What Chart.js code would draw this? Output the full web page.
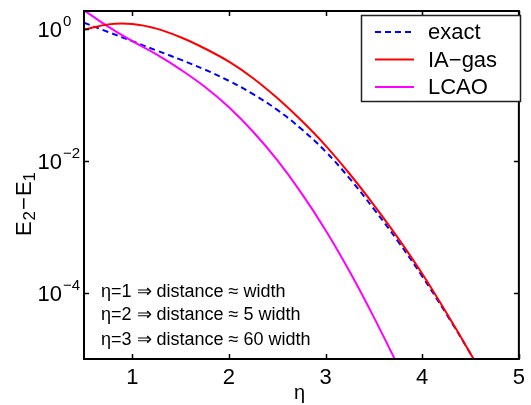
<!DOCTYPE html>
<html>
<head>
<meta charset="utf-8">
<script src="https://cdn.jsdelivr.net/npm/chart.js@4/dist/chart.umd.min.js"></script>
<style>
  html, body { margin: 0; padding: 0; background: #fff; }
  canvas { display: block; }
</style>
</head>
<body>
<canvas id="plot" width="531" height="405"></canvas>
<script>
// eta grid and the three curves
const eta = [0.5, 0.75, 1, 1.25, 1.5, 1.75, 2, 2.25, 2.5, 2.75, 3, 3.25, 3.5, 3.75, 4, 4.25, 4.5, 4.75];
const exact = [1.23, 0.891, 0.646, 0.468, 0.339, 0.240, 0.162, 0.102, 0.0589, 0.0302, 0.0138, 0.00537, 0.00186, 6.03e-4, 1.78e-4, 4.79e-5, 1.20e-5, 2.82e-6];
const iaGas = [0.966, 1.161, 1.175, 1.0, 0.741, 0.501, 0.316, 0.178, 0.0891, 0.0407, 0.0170, 0.00631, 0.00214, 6.76e-4, 1.95e-4, 5.0e-5, 1.20e-5, 2.7e-6];
const lcao = [1.9, 1.072, 0.646, 0.407, 0.240, 0.132, 0.0646, 0.0275, 0.0102, 0.00324, 8.9e-4, 2.09e-4, 4.27e-5, 7.8e-6, 1.26e-6, null, null, null];

const seriesNames = ['exact', 'IA\u2212gas', 'LCAO'];
const xTicks = [1, 2, 3, 4, 5];
const yTicks = [1e-4, 1e-2, 1];
const yTickExp = ['\u22124', '\u22122', '0'];
const notes = [
    '\u03b7=1 \u21d2 distance \u2248 width',
    '\u03b7=2 \u21d2 distance \u2248 5 width',
    '\u03b7=3 \u21d2 distance \u2248 60 width'
];

const FONT = "'Liberation Sans', Arial, sans-serif";

function points(ys) {
    return eta.map((x, i) => ({ x: x, y: ys[i] }));
}

// MATLAB style box, inward ticks, legend and labels
const matlabAxes = {
    id: 'matlabAxes',
    afterDatasetsDraw(chart) {
        const ctx = chart.ctx;
        const a = chart.chartArea;
        const xs = chart.scales.x;
        const ys = chart.scales.y;
        ctx.save();

        // box
        ctx.strokeStyle = '#000';
        ctx.lineWidth = 2;
        ctx.strokeRect(a.left, a.top, a.right - a.left, a.bottom - a.top);

        // inward ticks
        ctx.lineWidth = 1.5;
        ctx.beginPath();
        xTicks.forEach(v => {
            const px = Math.round(xs.getPixelForValue(v)) + 0.5;
            ctx.moveTo(px, a.bottom); ctx.lineTo(px, a.bottom - 5);
            ctx.moveTo(px, a.top); ctx.lineTo(px, a.top + 5);
        });
        yTicks.forEach(v => {
            const py = Math.round(ys.getPixelForValue(v)) + 0.5;
            ctx.moveTo(a.left, py); ctx.lineTo(a.left + 5, py);
            ctx.moveTo(a.right, py); ctx.lineTo(a.right - 5, py);
        });
        ctx.stroke();

        // y tick labels 10^n
        ctx.fillStyle = '#000';
        ctx.textBaseline = 'alphabetic';
        yTicks.forEach((v, i) => {
            const py = ys.getPixelForValue(v);
            ctx.font = '22px ' + FONT;
            ctx.textAlign = 'right';
            ctx.fillText('10', 62, py + 8);
            ctx.font = '15px ' + FONT;
            ctx.textAlign = 'left';
            ctx.fillText(yTickExp[i], 63, py - 3);
        });

        // legend
        const lx = 361.5, ly = 15.5, lw = 159, lh = 86;
        ctx.fillStyle = '#fff';
        ctx.fillRect(lx, ly, lw, lh);
        ctx.strokeStyle = '#222';
        ctx.lineWidth = 1.5;
        ctx.strokeRect(lx, ly, lw, lh);
        const rows = [32, 59.5, 87];
        chart.data.datasets.forEach((ds, i) => {
            ctx.strokeStyle = ds.borderColor;
            ctx.lineWidth = 2;
            ctx.setLineDash(ds.borderDash || []);
            ctx.beginPath();
            ctx.moveTo(375, rows[i]);
            ctx.lineTo(414, rows[i]);
            ctx.stroke();
            ctx.setLineDash([]);
            ctx.fillStyle = '#000';
            ctx.font = '22px ' + FONT;
            ctx.textAlign = 'left';
            ctx.textBaseline = 'middle';
            ctx.fillText(ds.label, 428, rows[i] + 1);
        });

        // annotation
        ctx.font = '18px ' + FONT;
        ctx.textAlign = 'left';
        ctx.textBaseline = 'alphabetic';
        const noteY = [297, 320, 344.5];
        notes.forEach((t, i) => ctx.fillText(t, 101, noteY[i]));

        // x title
        ctx.font = '20px ' + FONT;
        ctx.textAlign = 'center';
        ctx.fillText('\u03b7', (a.left + a.right) / 2 - 2, 399);

        // y title E2-E1
        ctx.translate(31, 204);
        ctx.rotate(-Math.PI / 2);
        const big = '22px ' + FONT, small = '17px ' + FONT;
        const parts = [['E', big, 0, 1], ['2', small, 4, 1], ['\u2212', big, 0, 1], ['E', big, 0, 0], ['1', small, 4, 0]];
        let w = 0;
        parts.forEach(p => { ctx.font = p[1]; w += ctx.measureText(p[0]).width + p[3]; });
        let cx = -w / 2;
        ctx.textAlign = 'left';
        parts.forEach(p => {
            ctx.font = p[1];
            ctx.fillText(p[0], cx, p[2]);
            cx += ctx.measureText(p[0]).width + p[3];
        });

        ctx.restore();
    }
};

const ctx = document.getElementById('plot').getContext('2d');
const chart = new Chart(ctx, {
    type: 'line',
    data: {
        datasets: [
            {
                label: seriesNames[0],
                data: points(exact),
                borderColor: '#0000ff',
                borderWidth: 2,
                borderDash: [6, 4],
                order: 3
            },
            {
                label: seriesNames[1],
                data: points(iaGas),
                borderColor: '#ff0000',
                borderWidth: 2,
                order: 1
            },
            {
                label: seriesNames[2],
                data: points(lcao),
                borderColor: '#ff00ff',
                borderWidth: 2,
                order: 2
            }
        ]
    },
    options: {
        responsive: false,
        animation: false,
        layout: { padding: { left: 0, right: 5, top: 11, bottom: 0 } },
        elements: {
            point: { radius: 0 },
            line: { tension: 0.4, fill: false }
        },
        datasets: { line: { clip: 0 } },
        scales: {
            x: {
                type: 'linear',
                min: 0.5,
                max: 5,
                grid: { display: false, drawTicks: false },
                border: { display: false },
                afterBuildTicks: s => { s.ticks = xTicks.map(v => ({ value: v })); },
                afterFit: s => { s.height = 46; },
                ticks: {
                    padding: 6,
                    color: '#000',
                    font: { family: FONT, size: 22 },
                    maxRotation: 0,
                    callback: v => String(v)
                }
            },
            y: {
                type: 'logarithmic',
                min: 1e-5,
                max: 1.85,
                grid: { display: false, drawTicks: false },
                border: { display: false },
                ticks: { display: false },
                afterFit: s => { s.width = 84; }
            }
        },
        plugins: {
            legend: { display: false },
            tooltip: { enabled: false }
        }
    },
    plugins: [matlabAxes]
});
</script>
</body>
</html>
